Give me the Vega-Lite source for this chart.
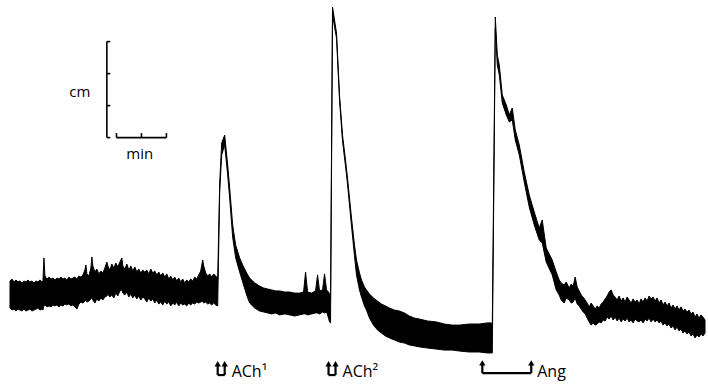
{
  "$schema": "https://vega.github.io/schema/vega-lite/v6.json",
  "width": 708,
  "height": 384,
  "autosize": {"type": "fit", "contains": "padding"},
  "padding": 0,
  "background": "white",
  "config": {"view": {"stroke": null}},
  "datasets": {
    "trace": [
      {"t": 12, "hi": 32.2, "lo": 23.75},
      {"t": 14.4, "hi": 32.8, "lo": 23.1},
      {"t": 16.8, "hi": 31.9, "lo": 23.4},
      {"t": 19.2, "hi": 32.5, "lo": 22.8},
      {"t": 21.6, "hi": 31.9, "lo": 23.4},
      {"t": 24, "hi": 32.2, "lo": 23.1},
      {"t": 26.4, "hi": 31.6, "lo": 22.8},
      {"t": 28.8, "hi": 32.2, "lo": 23.4},
      {"t": 31.2, "hi": 31.9, "lo": 22.8},
      {"t": 33.6, "hi": 32.5, "lo": 23.1},
      {"t": 36, "hi": 31.9, "lo": 23.4},
      {"t": 38.4, "hi": 32.2, "lo": 22.8},
      {"t": 40.8, "hi": 31.6, "lo": 23.1},
      {"t": 43.2, "hi": 32.2, "lo": 23.4},
      {"t": 45.6, "hi": 31.9, "lo": 23.75},
      {"t": 48, "hi": 32.5, "lo": 23.1},
      {"t": 50.4, "hi": 31.9, "lo": 23.4},
      {"t": 51.6, "hi": 32.2, "lo": 23.1},
      {"t": 52.8, "hi": 39.4, "lo": 24.4},
      {"t": 54, "hi": 33.75, "lo": 24.7},
      {"t": 56.4, "hi": 32.8, "lo": 24.1},
      {"t": 58.8, "hi": 33.4, "lo": 24.4},
      {"t": 61.2, "hi": 32.8, "lo": 24.1},
      {"t": 63.6, "hi": 33.1, "lo": 24.7},
      {"t": 66, "hi": 32.5, "lo": 24.4},
      {"t": 68.4, "hi": 33.1, "lo": 24.7},
      {"t": 70.8, "hi": 32.8, "lo": 24.1},
      {"t": 73.2, "hi": 33.4, "lo": 24.7},
      {"t": 75.6, "hi": 32.8, "lo": 24.4},
      {"t": 78, "hi": 33.1, "lo": 25},
      {"t": 80.4, "hi": 32.5, "lo": 24.7},
      {"t": 82.8, "hi": 33.4, "lo": 25},
      {"t": 85.2, "hi": 32.8, "lo": 24.4},
      {"t": 87.6, "hi": 33.1, "lo": 24.7},
      {"t": 90, "hi": 33.4, "lo": 24.1},
      {"t": 92.4, "hi": 32.8, "lo": 23.4},
      {"t": 94.8, "hi": 33.75, "lo": 25},
      {"t": 97.2, "hi": 33.4, "lo": 25.6},
      {"t": 99.6, "hi": 34.1, "lo": 25.3},
      {"t": 102, "hi": 35.6, "lo": 25.9},
      {"t": 103.2, "hi": 37.2, "lo": 26.25},
      {"t": 104.4, "hi": 34.4, "lo": 25.6},
      {"t": 106.8, "hi": 33.75, "lo": 25.9},
      {"t": 109.2, "hi": 36.25, "lo": 26.6},
      {"t": 110.4, "hi": 39.7, "lo": 26.9},
      {"t": 111.6, "hi": 36.9, "lo": 26.25},
      {"t": 114, "hi": 35, "lo": 25.3},
      {"t": 116.4, "hi": 35.9, "lo": 26.6},
      {"t": 118.8, "hi": 34.4, "lo": 25.9},
      {"t": 121.2, "hi": 35.3, "lo": 26.9},
      {"t": 123.6, "hi": 34.7, "lo": 26.25},
      {"t": 126, "hi": 36.25, "lo": 27.2},
      {"t": 128.4, "hi": 38.1, "lo": 27.5},
      {"t": 129.6, "hi": 36.9, "lo": 28.1},
      {"t": 132, "hi": 35.6, "lo": 27.2},
      {"t": 134.4, "hi": 37.5, "lo": 27.8},
      {"t": 136.8, "hi": 36.25, "lo": 26.9},
      {"t": 139.2, "hi": 37.8, "lo": 28.4},
      {"t": 141.6, "hi": 36.6, "lo": 27.5},
      {"t": 144, "hi": 38.1, "lo": 29.1},
      {"t": 146.4, "hi": 39.4, "lo": 29.4},
      {"t": 147.6, "hi": 36.9, "lo": 28.4},
      {"t": 150, "hi": 35.9, "lo": 27.8},
      {"t": 152.4, "hi": 37.5, "lo": 28.75},
      {"t": 154.8, "hi": 35.6, "lo": 27.2},
      {"t": 157.2, "hi": 36.9, "lo": 28.1},
      {"t": 159.6, "hi": 35.3, "lo": 26.9},
      {"t": 162, "hi": 36.6, "lo": 27.8},
      {"t": 164.4, "hi": 35, "lo": 26.6},
      {"t": 166.8, "hi": 35.9, "lo": 27.5},
      {"t": 169.2, "hi": 34.7, "lo": 26.25},
      {"t": 171.6, "hi": 35.6, "lo": 27.2},
      {"t": 174, "hi": 35, "lo": 26.6},
      {"t": 176.4, "hi": 35.6, "lo": 25.6},
      {"t": 178.8, "hi": 34.4, "lo": 26.9},
      {"t": 181.2, "hi": 35.9, "lo": 25.9},
      {"t": 183.6, "hi": 34.7, "lo": 26.6},
      {"t": 186, "hi": 35.3, "lo": 25.3},
      {"t": 188.4, "hi": 34.1, "lo": 26.25},
      {"t": 190.8, "hi": 35, "lo": 25},
      {"t": 193.2, "hi": 33.75, "lo": 25.6},
      {"t": 195.6, "hi": 34.7, "lo": 24.7},
      {"t": 198, "hi": 33.4, "lo": 25.9},
      {"t": 200.4, "hi": 34.4, "lo": 25},
      {"t": 202.8, "hi": 32.8, "lo": 25.6},
      {"t": 205.2, "hi": 33.75, "lo": 24.4},
      {"t": 207.6, "hi": 32.5, "lo": 25.3},
      {"t": 210, "hi": 33.4, "lo": 24.7},
      {"t": 212.4, "hi": 32.2, "lo": 25.6},
      {"t": 214.8, "hi": 33.1, "lo": 24.4},
      {"t": 217.2, "hi": 31.9, "lo": 25.3},
      {"t": 219.6, "hi": 32.8, "lo": 24.7},
      {"t": 222, "hi": 31.6, "lo": 25},
      {"t": 224.4, "hi": 32.5, "lo": 24.4},
      {"t": 226.8, "hi": 31.9, "lo": 25.3},
      {"t": 229.2, "hi": 32.8, "lo": 24.7},
      {"t": 231.6, "hi": 32.2, "lo": 25.3},
      {"t": 234, "hi": 33.4, "lo": 25},
      {"t": 236.4, "hi": 32.8, "lo": 25.6},
      {"t": 238.8, "hi": 34.1, "lo": 25.3},
      {"t": 241.2, "hi": 35.3, "lo": 25.6},
      {"t": 243.6, "hi": 38.75, "lo": 25.9},
      {"t": 244.8, "hi": 36.9, "lo": 25.3},
      {"t": 247.2, "hi": 34.7, "lo": 25.6},
      {"t": 249.6, "hi": 33.75, "lo": 25},
      {"t": 252, "hi": 34.4, "lo": 25.3},
      {"t": 254.4, "hi": 33.4, "lo": 24.7},
      {"t": 256.8, "hi": 34.4, "lo": 25.3},
      {"t": 259.2, "hi": 33.75, "lo": 24.7},
      {"t": 261.6, "hi": 33.1, "lo": 24.4},
      {"t": 264, "hi": 62.8, "lo": 60},
      {"t": 266.4, "hi": 75.3, "lo": 71.6},
      {"t": 270, "hi": 77.8, "lo": 74.7},
      {"t": 273.6, "hi": 68.4, "lo": 65.3},
      {"t": 276, "hi": 61.25, "lo": 58.1},
      {"t": 279.6, "hi": 49.7, "lo": 45.9},
      {"t": 283.2, "hi": 43.4, "lo": 39.4},
      {"t": 288, "hi": 39.4, "lo": 35},
      {"t": 291.6, "hi": 37.2, "lo": 31.9},
      {"t": 296.4, "hi": 34.7, "lo": 27.8},
      {"t": 300, "hi": 33.1, "lo": 25.3},
      {"t": 306, "hi": 31.6, "lo": 23.75},
      {"t": 312, "hi": 30.6, "lo": 22.8},
      {"t": 316.8, "hi": 30, "lo": 22.5},
      {"t": 321.6, "hi": 29.7, "lo": 22.2},
      {"t": 326.4, "hi": 29.4, "lo": 21.9},
      {"t": 331.2, "hi": 29.1, "lo": 22.2},
      {"t": 336, "hi": 29.1, "lo": 21.6},
      {"t": 342, "hi": 28.75, "lo": 21.9},
      {"t": 348, "hi": 28.75, "lo": 21.6},
      {"t": 354, "hi": 28.4, "lo": 21.25},
      {"t": 360, "hi": 28.4, "lo": 21.6},
      {"t": 364.8, "hi": 28.75, "lo": 21.9},
      {"t": 367.2, "hi": 35, "lo": 21.9},
      {"t": 369.6, "hi": 28.75, "lo": 21.6},
      {"t": 374.4, "hi": 28.4, "lo": 21.9},
      {"t": 379.2, "hi": 29.1, "lo": 22.2},
      {"t": 381.6, "hi": 34.1, "lo": 22.2},
      {"t": 384, "hi": 29.1, "lo": 21.9},
      {"t": 387.6, "hi": 29.4, "lo": 22.5},
      {"t": 390, "hi": 34.4, "lo": 22.2},
      {"t": 392.4, "hi": 29.4, "lo": 22.5},
      {"t": 394.8, "hi": 28.75, "lo": 20.6},
      {"t": 396, "hi": 28.1, "lo": 19.4},
      {"t": 397.2, "hi": 26.25, "lo": 19.1},
      {"t": 399.6, "hi": 117.8, "lo": 115.6},
      {"t": 402, "hi": 113.75, "lo": 111.6},
      {"t": 404.4, "hi": 109.7, "lo": 108.1},
      {"t": 408, "hi": 90.3, "lo": 88.75},
      {"t": 411.6, "hi": 77.8, "lo": 75.9},
      {"t": 415.2, "hi": 70, "lo": 68.1},
      {"t": 417.6, "hi": 64.4, "lo": 62.5},
      {"t": 422.4, "hi": 51.9, "lo": 49.4},
      {"t": 426, "hi": 43.4, "lo": 40},
      {"t": 428.4, "hi": 38.75, "lo": 34.1},
      {"t": 432, "hi": 34.7, "lo": 29.4},
      {"t": 434.4, "hi": 32.5, "lo": 27.2},
      {"t": 438, "hi": 30.3, "lo": 24.4},
      {"t": 440.4, "hi": 29.4, "lo": 23.1},
      {"t": 444, "hi": 28.1, "lo": 20.6},
      {"t": 448.8, "hi": 26.9, "lo": 18.4},
      {"t": 453.6, "hi": 25.9, "lo": 16.9},
      {"t": 458.4, "hi": 25, "lo": 15.9},
      {"t": 463.2, "hi": 24.4, "lo": 15},
      {"t": 468, "hi": 23.75, "lo": 14.4},
      {"t": 474, "hi": 23.1, "lo": 13.75},
      {"t": 480, "hi": 22.8, "lo": 13.1},
      {"t": 486, "hi": 22.2, "lo": 12.8},
      {"t": 492, "hi": 21.25, "lo": 12.2},
      {"t": 498, "hi": 20.6, "lo": 11.9},
      {"t": 504, "hi": 20.3, "lo": 11.6},
      {"t": 513.6, "hi": 19.7, "lo": 11.25},
      {"t": 524.4, "hi": 19.4, "lo": 10.9},
      {"t": 534, "hi": 18.75, "lo": 10.6},
      {"t": 543.6, "hi": 18.4, "lo": 10.6},
      {"t": 552, "hi": 18.4, "lo": 10.3},
      {"t": 564, "hi": 18.75, "lo": 10},
      {"t": 576, "hi": 18.75, "lo": 10},
      {"t": 585.6, "hi": 19.1, "lo": 9.7},
      {"t": 590.4, "hi": 19.1, "lo": 9.7},
      {"t": 591.6, "hi": 18.75, "lo": 9.7},
      {"t": 595.2, "hi": 114.7, "lo": 111.25},
      {"t": 597.6, "hi": 102.8, "lo": 99.7},
      {"t": 600, "hi": 99.7, "lo": 96.6},
      {"t": 603.6, "hi": 90.3, "lo": 87.8},
      {"t": 608.4, "hi": 87.2, "lo": 84.1},
      {"t": 612, "hi": 84.1, "lo": 81.9},
      {"t": 615.6, "hi": 86.25, "lo": 82.5},
      {"t": 619.2, "hi": 79.4, "lo": 76.25},
      {"t": 624, "hi": 74.7, "lo": 71.6},
      {"t": 630, "hi": 66.25, "lo": 63.1},
      {"t": 636, "hi": 59.1, "lo": 55.3},
      {"t": 642, "hi": 53.75, "lo": 49.7},
      {"t": 648, "hi": 48.75, "lo": 45},
      {"t": 651.6, "hi": 51.25, "lo": 44.1},
      {"t": 656.4, "hi": 42.5, "lo": 38.1},
      {"t": 663.6, "hi": 38.75, "lo": 34.1},
      {"t": 668.4, "hi": 35, "lo": 29.4},
      {"t": 672, "hi": 32.5, "lo": 27.8},
      {"t": 674.4, "hi": 31.6, "lo": 26.25},
      {"t": 678, "hi": 30.9, "lo": 25.3},
      {"t": 680.4, "hi": 31.9, "lo": 26.9},
      {"t": 684, "hi": 30, "lo": 26.25},
      {"t": 686.4, "hi": 31.25, "lo": 25.3},
      {"t": 688.8, "hi": 30.6, "lo": 25.6},
      {"t": 691.2, "hi": 33.4, "lo": 26.9},
      {"t": 693.6, "hi": 30.3, "lo": 25},
      {"t": 696, "hi": 29.1, "lo": 24.4},
      {"t": 698.4, "hi": 27.8, "lo": 23.4},
      {"t": 700.8, "hi": 27.2, "lo": 22.5},
      {"t": 703.2, "hi": 26.25, "lo": 21.9},
      {"t": 705.6, "hi": 25.3, "lo": 20.6},
      {"t": 708, "hi": 24.1, "lo": 19.4},
      {"t": 710.4, "hi": 25.3, "lo": 18.4},
      {"t": 712.8, "hi": 24.4, "lo": 19.1},
      {"t": 715.2, "hi": 23.4, "lo": 18.4},
      {"t": 717.6, "hi": 24.4, "lo": 18.75},
      {"t": 720, "hi": 23.75, "lo": 19.4},
      {"t": 722.4, "hi": 25, "lo": 19.1},
      {"t": 724.8, "hi": 25.6, "lo": 20},
      {"t": 727.2, "hi": 26.6, "lo": 19.7},
      {"t": 729.6, "hi": 27.5, "lo": 20.9},
      {"t": 732, "hi": 28.75, "lo": 20.3},
      {"t": 734.4, "hi": 29.4, "lo": 21.25},
      {"t": 736.8, "hi": 27.8, "lo": 20},
      {"t": 739.2, "hi": 27.2, "lo": 20.9},
      {"t": 741.6, "hi": 26.25, "lo": 19.7},
      {"t": 744, "hi": 27.5, "lo": 20.6},
      {"t": 746.4, "hi": 25.9, "lo": 19.4},
      {"t": 748.8, "hi": 26.9, "lo": 20.3},
      {"t": 751.2, "hi": 25.6, "lo": 19.7},
      {"t": 753.6, "hi": 27.2, "lo": 20.6},
      {"t": 756, "hi": 26.25, "lo": 19.4},
      {"t": 758.4, "hi": 25.3, "lo": 20},
      {"t": 760.8, "hi": 26.6, "lo": 19.1},
      {"t": 763.2, "hi": 25.6, "lo": 20.3},
      {"t": 765.6, "hi": 26.25, "lo": 19.7},
      {"t": 768, "hi": 25, "lo": 19.4},
      {"t": 770.4, "hi": 26.6, "lo": 20},
      {"t": 772.8, "hi": 25.6, "lo": 19.1},
      {"t": 775.2, "hi": 26.9, "lo": 20.3},
      {"t": 777.6, "hi": 25.9, "lo": 19.7},
      {"t": 780, "hi": 27.5, "lo": 20.6},
      {"t": 782.4, "hi": 26.6, "lo": 19.4},
      {"t": 784.8, "hi": 27.2, "lo": 20.3},
      {"t": 787.2, "hi": 25.9, "lo": 19.4},
      {"t": 789.6, "hi": 26.9, "lo": 20},
      {"t": 792, "hi": 25.3, "lo": 19.1},
      {"t": 794.4, "hi": 26.25, "lo": 19.7},
      {"t": 796.8, "hi": 24.7, "lo": 18.4},
      {"t": 799.2, "hi": 25.6, "lo": 19.1},
      {"t": 801.6, "hi": 24.4, "lo": 18.1},
      {"t": 804, "hi": 25.3, "lo": 18.75},
      {"t": 806.4, "hi": 23.75, "lo": 17.5},
      {"t": 808.8, "hi": 24.7, "lo": 18.1},
      {"t": 811.2, "hi": 23.4, "lo": 16.9},
      {"t": 813.6, "hi": 24.4, "lo": 17.8},
      {"t": 816, "hi": 23.1, "lo": 16.6},
      {"t": 818.4, "hi": 24.1, "lo": 17.2},
      {"t": 820.8, "hi": 22.8, "lo": 15.9},
      {"t": 823.2, "hi": 23.4, "lo": 16.6},
      {"t": 825.6, "hi": 22.5, "lo": 15.6},
      {"t": 828, "hi": 23.1, "lo": 16.25},
      {"t": 830.4, "hi": 21.9, "lo": 15},
      {"t": 832.8, "hi": 22.5, "lo": 15.6},
      {"t": 835.2, "hi": 20.9, "lo": 14.4},
      {"t": 837.6, "hi": 21.9, "lo": 15.3},
      {"t": 840, "hi": 20.6, "lo": 14.7},
      {"t": 842.4, "hi": 21.6, "lo": 15.6},
      {"t": 844.8, "hi": 20.9, "lo": 15},
      {"t": 847.2, "hi": 20, "lo": 15.9}
    ],
    "rules": [
      {"part": "scale", "t": 128.4, "t2": 128.4, "v": 77, "v2": 107},
      {"part": "scale", "t": 128.4, "t2": 132.5, "v": 107, "v2": 107},
      {"part": "scale", "t": 128.4, "t2": 132.5, "v": 97, "v2": 97},
      {"part": "scale", "t": 128.4, "t2": 132.5, "v": 87, "v2": 87},
      {"part": "scale", "t": 128.4, "t2": 132.5, "v": 77, "v2": 77},
      {"part": "scale", "t": 140, "t2": 200, "v": 77, "v2": 77},
      {"part": "scale", "t": 140, "t2": 140, "v": 77, "v2": 78.4},
      {"part": "scale", "t": 170, "t2": 170, "v": 77, "v2": 78.4},
      {"part": "scale", "t": 200, "t2": 200, "v": 77, "v2": 78.4},
      {"part": "marker", "t": 261.6, "t2": 261.6, "v": 2.8, "v2": 6.3},
      {"part": "marker", "t": 270, "t2": 270, "v": 2.8, "v2": 6.3},
      {"part": "marker", "t": 261.6, "t2": 270, "v": 2.8, "v2": 2.8},
      {"part": "marker", "t": 394.8, "t2": 394.8, "v": 2.8, "v2": 6.3},
      {"part": "marker", "t": 403.2, "t2": 403.2, "v": 2.8, "v2": 6.3},
      {"part": "marker", "t": 394.8, "t2": 403.2, "v": 2.8, "v2": 2.8},
      {"part": "marker", "t": 579.6, "t2": 579.6, "v": 3.4, "v2": 6.6},
      {"part": "marker", "t": 638.4, "t2": 638.4, "v": 3.4, "v2": 6.6},
      {"part": "marker", "t": 579.6, "t2": 638.4, "v": 3.4, "v2": 3.4}
    ],
    "heads": [
      {"t": 261.6, "v": 6.3},
      {"t": 270, "v": 6.3},
      {"t": 394.8, "v": 6.3},
      {"t": 403.2, "v": 6.3},
      {"t": 579.6, "v": 6.6},
      {"t": 638.4, "v": 6.6}
    ],
    "labels": [
      {"label": "cm", "t": 96, "v": 91.25, "align": "center"},
      {"label": "min", "t": 168, "v": 71.9, "align": "center"},
      {"label": "ACh¹", "t": 278.4, "v": 3.75, "align": "left"},
      {"label": "ACh²", "t": 411.6, "v": 3.75, "align": "left"},
      {"label": "Ang", "t": 645.6, "v": 3.75, "align": "left"}
    ]
  },
  "layer": [
    {
      "data": {"name": "trace"},
      "mark": {"type": "area", "color": "#000000", "stroke": "#000000", "strokeWidth": 1, "interpolate": "linear"},
      "encoding": {
        "x": {"field": "t", "type": "quantitative", "scale": {"domain": [0, 849.6], "nice": false, "zero": false}, "axis": null},
        "y": {"field": "hi", "type": "quantitative", "scale": {"domain": [0, 120], "nice": false, "zero": false}, "axis": null},
        "y2": {"field": "lo"}
      }
    },
    {
      "data": {"name": "rules"},
      "transform": [{"filter": "datum.part == 'scale'"}],
      "mark": {"type": "rule", "color": "#000000", "strokeWidth": 1.6},
      "encoding": {
        "x": {"field": "t", "type": "quantitative", "scale": {"domain": [0, 849.6], "nice": false, "zero": false}, "axis": null},
        "x2": {"field": "t2"},
        "y": {"field": "v", "type": "quantitative", "scale": {"domain": [0, 120], "nice": false, "zero": false}, "axis": null},
        "y2": {"field": "v2"}
      }
    },
    {
      "data": {"name": "rules"},
      "transform": [{"filter": "datum.part == 'marker'"}],
      "mark": {"type": "rule", "color": "#000000", "strokeWidth": 2.2},
      "encoding": {
        "x": {"field": "t", "type": "quantitative", "scale": {"domain": [0, 849.6], "nice": false, "zero": false}, "axis": null},
        "x2": {"field": "t2"},
        "y": {"field": "v", "type": "quantitative", "scale": {"domain": [0, 120], "nice": false, "zero": false}, "axis": null},
        "y2": {"field": "v2"}
      }
    },
    {
      "data": {"name": "heads"},
      "mark": {"type": "point", "shape": "triangle-up", "filled": true, "color": "#000000", "size": 40, "opacity": 1},
      "encoding": {
        "x": {"field": "t", "type": "quantitative", "scale": {"domain": [0, 849.6], "nice": false, "zero": false}, "axis": null},
        "y": {"field": "v", "type": "quantitative", "scale": {"domain": [0, 120], "nice": false, "zero": false}, "axis": null}
      }
    },
    {
      "data": {"name": "labels"},
      "transform": [{"filter": "datum.align == 'center'"}],
      "mark": {"type": "text", "align": "center", "baseline": "middle", "font": "Open Sans", "fontSize": 15, "color": "#000000"},
      "encoding": {
        "x": {"field": "t", "type": "quantitative", "scale": {"domain": [0, 849.6], "nice": false, "zero": false}, "axis": null},
        "y": {"field": "v", "type": "quantitative", "scale": {"domain": [0, 120], "nice": false, "zero": false}, "axis": null},
        "text": {"field": "label"}
      }
    },
    {
      "data": {"name": "labels"},
      "transform": [{"filter": "datum.align == 'left'"}],
      "mark": {"type": "text", "align": "left", "baseline": "middle", "font": "Open Sans", "fontSize": 16, "color": "#000000"},
      "encoding": {
        "x": {"field": "t", "type": "quantitative", "scale": {"domain": [0, 849.6], "nice": false, "zero": false}, "axis": null},
        "y": {"field": "v", "type": "quantitative", "scale": {"domain": [0, 120], "nice": false, "zero": false}, "axis": null},
        "text": {"field": "label"}
      }
    }
  ]
}
